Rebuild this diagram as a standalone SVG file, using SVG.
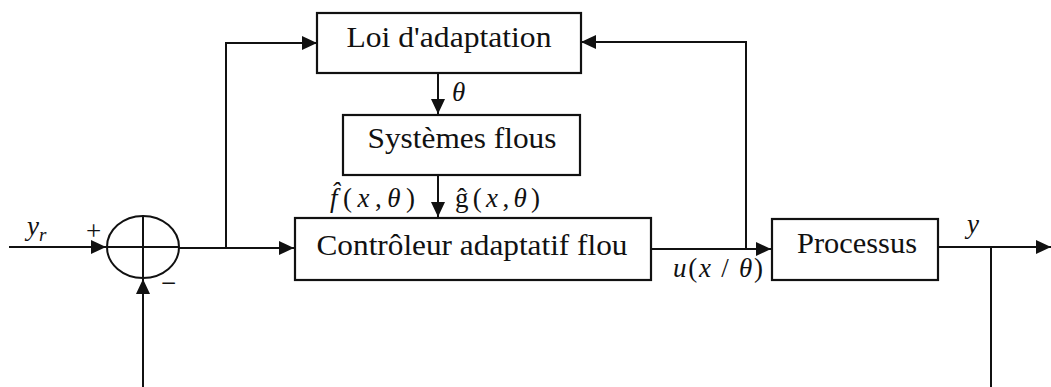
<svg xmlns="http://www.w3.org/2000/svg" width="1051" height="387" viewBox="0 0 1051 387">
  <defs>
    <marker id="arrow" markerUnits="userSpaceOnUse" markerWidth="16" markerHeight="16" refX="15" refY="7" orient="auto">
      <path d="M0,0 L15,7 L0,14 z" fill="#111"/>
    </marker>
    <style>
      .box { fill: #fff; stroke: #111; stroke-width: 2.2; }
      .wire { fill: none; stroke: #111; stroke-width: 2; }
      text { font-family: 'Liberation Serif', serif; fill: #111; }
      .lbl { font-size: 29px; text-anchor: middle; }
      .math { font-size: 27px; }
      .it { font-style: italic; }
    </style>
  </defs>
  <rect width="1051" height="387" fill="#fff"/>

  <!-- connectors -->
  <g id="connectors">
    <path class="wire" d="M9,247 H106" marker-end="url(#arrow)"/>
    <path class="wire" d="M143,387 V279" marker-end="url(#arrow)"/>
    <path class="wire" d="M179,248 H294" marker-end="url(#arrow)"/>
    <path class="wire" d="M226,248 V43 H317" marker-end="url(#arrow)"/>
    <path class="wire" d="M651,249 H771" marker-end="url(#arrow)"/>
    <path class="wire" d="M746,249 V42 H581" marker-end="url(#arrow)"/>
    <path class="wire" d="M438,73 V114" marker-end="url(#arrow)"/>
    <path class="wire" d="M438,175 V217" marker-end="url(#arrow)"/>
    <path class="wire" d="M938,247 H1051" marker-end="url(#arrow)"/>
    <path class="wire" d="M991,247 V387"/>
  </g>

  <!-- summing junction -->
  <g id="sum">
    <ellipse cx="143" cy="247" rx="36" ry="31" fill="#fff" stroke="#111" stroke-width="2"/>
    <path class="wire" d="M107,247 H179 M143,216 V278"/>
    <text class="math" x="86" y="240" font-family="Liberation Serif, serif" font-size="26">+</text>
    <text class="math" x="161" y="292" font-family="Liberation Serif, serif" font-size="26">−</text>
  </g>

  <g id="loi">
    <rect class="box" x="317" y="13" width="264" height="60"/>
    <text class="lbl" x="449" y="47" font-family="Liberation Serif, serif" textLength="205" lengthAdjust="spacingAndGlyphs">Loi d'adaptation</text>
  </g>

  <g id="systemes">
    <rect class="box" x="343" y="115" width="237" height="60"/>
    <text class="lbl" x="462" y="148" font-family="Liberation Serif, serif" textLength="189" lengthAdjust="spacingAndGlyphs">Systèmes flous</text>
  </g>

  <g id="controleur">
    <rect class="box" x="295" y="218" width="356" height="62"/>
    <text class="lbl" x="472" y="255" font-family="Liberation Serif, serif" textLength="311" lengthAdjust="spacingAndGlyphs">Contrôleur adaptatif flou</text>
  </g>

  <g id="processus">
    <rect class="box" x="772" y="219" width="166" height="61"/>
    <text class="lbl" x="857" y="253" font-family="Liberation Serif, serif" textLength="120" lengthAdjust="spacingAndGlyphs">Processus</text>
  </g>

  <!-- signal labels -->
  <g id="labels" font-family="Liberation Serif, serif">
    <text class="math it" x="27" y="235">y<tspan font-size="19" dy="6">r</tspan></text>
    <text class="math it" x="452" y="101">θ</text>
    <text class="math" x="330" y="207" textLength="85" lengthAdjust="spacing"><tspan class="it">f̂</tspan>(<tspan class="it">x</tspan>,<tspan class="it">θ</tspan>)</text>
    <text class="math" x="455" y="207" textLength="85" lengthAdjust="spacing">ĝ(<tspan class="it">x</tspan>,<tspan class="it">θ</tspan>)</text>
    <text class="math" x="673" y="277" textLength="90" lengthAdjust="spacing"><tspan class="it">u</tspan>(<tspan class="it">x</tspan> / <tspan class="it">θ</tspan>)</text>
    <text class="math it" x="967" y="233">y</text>
  </g>
</svg>
